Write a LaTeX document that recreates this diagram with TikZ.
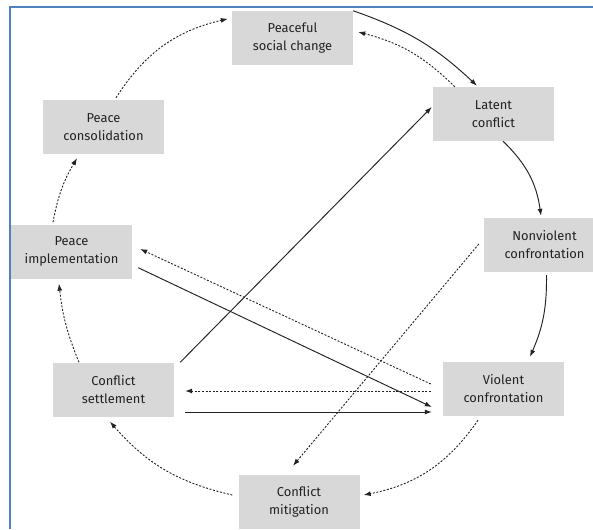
\documentclass[tikz,border=0pt]{standalone}
\usepackage{fontspec}
\setmainfont{Fira Sans}
\usetikzlibrary{arrows.meta,calc}
\definecolor{boxgray}{RGB}{216,216,216}
\definecolor{frameblue}{RGB}{79,129,189}
\definecolor{ink}{RGB}{35,35,35}
\begin{document}
\begin{tikzpicture}[x=1pt,y=-1pt,
  stage/.style={fill=boxgray, minimum width=121pt, minimum height=54pt, inner sep=0pt,
    align=center, font=\fontsize{12.9}{18}\selectfont, text=ink},
  flow/.style={draw=ink, line width=0.95pt, -{Latex[length=7pt,width=5pt]}},
  back/.style={flow, dash pattern=on 2pt off 1.6pt, line width=0.9pt}]
\clip (0,0) rectangle (593,529);
\fill[white] (0,0) rectangle (593,529);
\draw[frameblue, line width=2.4pt] (10,529) -- (10,7.2) -- (593,7.2);

\node[stage] (psc)  at (292.5,38)  {Peaceful\\social change};
\node[stage] (lat)  at (493.5,114) {Latent\\conflict};
\node[stage] (nvc)  at (544.5,245) {Nonviolent\\confrontation};
\node[stage] (vc)   at (503.5,389) {Violent\\confrontation};
\node[stage] (cmit) at (299,502)   {Conflict\\mitigation};
\node[stage] (cset) at (113.5,389.5) {Conflict\\settlement};
\node[stage] (pimp) at (71.5,251.5) {Peace\\implementation};
\node[stage] (pcon) at (103.5,127) {Peace\\consolidation};

% outer cycle
\draw[flow] (psc.north east) to[bend left=12] ($(lat.north)+(-16.5,-1)$);
\draw[back] ($(lat.north west)+(22,0)$) to[bend right=15] ($(psc.east)+(5,-6)$);
\draw[flow] ($(lat.south)+(9.5,0)$) to[bend left=19] ($(nvc.north)+(-3.5,-2)$);
\draw[flow] ($(nvc.south)+(2,3)$) to[bend left=12] ($(vc.north)+(26.5,-5)$);
\draw[back] ($(vc.south)+(-25.5,4)$) to[bend left=22] ($(cmit.east)+(4,-7)$);
\draw[back] ($(cmit.west)+(-6,-7)$) to[bend left=18] ($(cset.south)+(-3.5,5)$);
\draw[back] ($(cset.north)+(-34.5,0)$) to[bend left=8] ($(pimp.south)+(-12.5,5)$);
\draw[back] ($(pimp.north)+(-18.5,-2)$) to[bend left=10] ($(pcon.south)+(-26.5,4)$);
\draw[back] ($(pcon.north)+(12.5,-2)$) to[bend left=22] ($(psc.north west)+(-4,8)$);

% crossing links
\draw[flow] ($(cset.north east)+(6,0)$) -- ($(lat.west)+(-1,-7)$);
\draw[flow] ($(pimp.south east)+(6,-11)$) -- ($(vc.west)+(-11,18)$);
\draw[back] ($(vc.west)+(-12,-5)$) -- ($(pimp.east)+(8,-2.5)$);
\draw[back] ($(vc.west)+(-12,2)$) -- ($(cset.east)+(11,1.5)$);
\draw[flow] ($(cset.east)+(11,22.5)$) -- ($(vc.west)+(-11,23)$);
\draw[back] ($(nvc.west)+(-5,-1)$) -- ($(cmit.north)+(-6,-9)$);
\end{tikzpicture}
\end{document}
